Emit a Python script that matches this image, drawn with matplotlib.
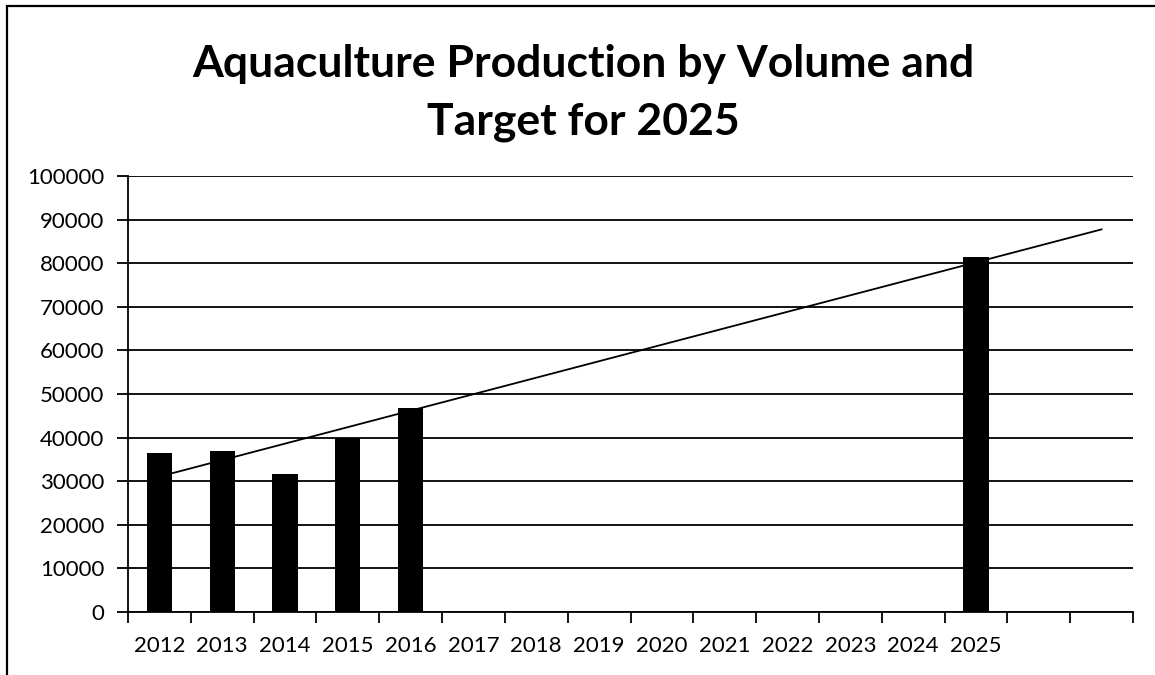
import numpy as np
import matplotlib
matplotlib.use("Agg")
import matplotlib.pyplot as plt
from matplotlib.patches import Rectangle

# data
years = ["2012", "2013", "2014", "2015", "2016", "2017", "2018",
         "2019", "2020", "2021", "2022", "2023", "2024", "2025"]
volume = [36500, 37000, 31600, 39900, 46800, None, None,
          None, None, None, None, None, None, 81500]
forecast_periods = 2  # linear trendline extended 2 periods forward

TITLE = "Aquaculture Production by Volume and\nTarget for 2025"

plt.rcParams["font.family"] = ["Lato", "DejaVu Sans"]

fig = plt.figure(figsize=(11.55, 6.75), dpi=100)
ax = fig.add_axes([128 / 1155, 1 - 612 / 675, 1005 / 1155, 436 / 675])

n_cat = len(years) + forecast_periods
pos = np.arange(len(years))
has = [v is not None for v in volume]
xs = pos[has]
ys = np.array([v for v in volume if v is not None], dtype=float)

# bars
ax.bar(xs, ys, width=0.4, color="black", zorder=3)

# linear trendline (fit on category index), drawn behind bars
slope, icpt = np.polyfit(xs + 1, ys, 1)
tx = np.array([1, n_cat])
ax.plot(tx - 1, slope * tx + icpt, color="black", lw=1.3, zorder=2)

ax.set_xlim(-0.5, n_cat - 0.5)
ax.set_ylim(0, 100000)
ax.set_yticks(np.arange(0, 100001, 10000))
ax.yaxis.grid(True, color="black", lw=1.3, zorder=1)
ax.set_axisbelow(True)

# category boundaries as ticks, labels in the middle
ax.set_xticks(np.arange(n_cat + 1) - 0.5)
ax.set_xticklabels([])
ax.set_xticks(pos, minor=True)
ax.set_xticklabels(years, minor=True, fontsize=16)
ax.tick_params(axis="x", which="major", length=8, width=1.3, direction="out")
ax.tick_params(axis="x", which="minor", length=0, pad=17)
ax.tick_params(axis="y", length=8, width=1.3, direction="out", labelsize=16, pad=9)

for s in ["top", "right"]:
    ax.spines[s].set_visible(False)
for s in ["left", "bottom"]:
    ax.spines[s].set_linewidth(1.3)

fig.text(583 / 1155, 1 - 93 / 675, TITLE, ha="center", va="center",
         fontsize=32, fontweight="bold", linespacing=1.55)

# outer chart frame (runs off the right and bottom edge)
fig.patches.append(Rectangle((7 / 1155, -0.05), 1.1, 1 - 6 / 675 + 0.05,
                             transform=fig.transFigure, fill=False,
                             edgecolor="black", lw=1.6))

fig.savefig("out.png", dpi=100, facecolor="white")
